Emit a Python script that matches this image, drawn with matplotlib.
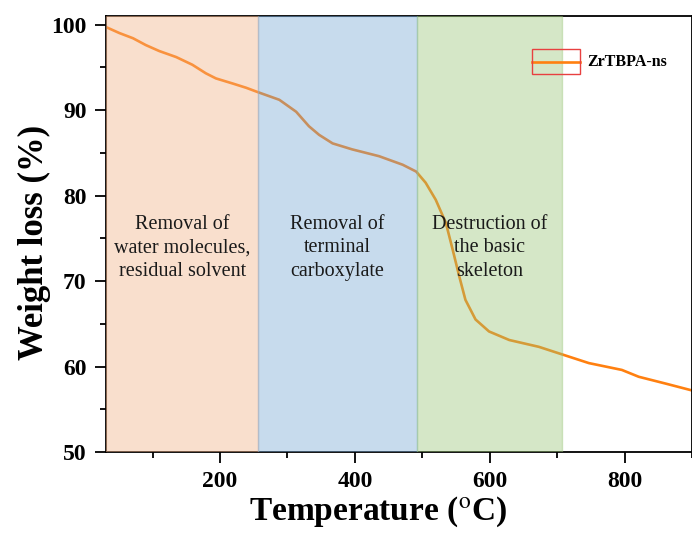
import matplotlib
matplotlib.use("Agg")
import matplotlib.pyplot as plt
from matplotlib.patches import Rectangle
from matplotlib.lines import Line2D
from matplotlib.ticker import MultipleLocator

plt.rcParams['font.family'] = ['Liberation Serif', 'DejaVu Serif']
plt.rcParams['mathtext.fontset'] = 'stix'

temperature = [31, 34, 51, 71, 90, 110, 135, 159, 179, 194, 219, 239, 256, 288, 313, 332,
               347, 367, 396, 436, 471, 491, 505, 520, 535, 545, 555, 564, 579, 599, 629,
               673, 708, 747, 796, 821, 861, 900]
weight = [99.7, 99.6, 99.0, 98.4, 97.6, 96.9, 96.2, 95.3, 94.3, 93.7, 93.1, 92.6, 92.1, 91.2, 89.8, 88.1,
          87.1, 86.1, 85.4, 84.6, 83.6, 82.8, 81.5, 79.5, 76.8, 73.7, 70.5, 67.8, 65.5, 64.1, 63.1,
          62.3, 61.4, 60.4, 59.6, 58.8, 58.0, 57.2]

region_edges = [31, 257, 492, 707]
region_colors = ['#F0AF84', '#75A7D4', '#98C575']
region_labels = ['Removal of\nwater molecules,\nresidual solvent',
                 'Removal of\nterminal\ncarboxylate',
                 'Destruction of\nthe basic\nskeleton']
series_name = 'ZrTBPA-ns'

fig = plt.figure(figsize=(6.92, 5.33), dpi=100)
ax = fig.add_axes([106/692, 1-452/533, 1-106/692, (452-16)/533])

ax.plot(temperature, weight, color='#FF8010', lw=1.9, zorder=2)

for i in range(3):
    ax.axvspan(region_edges[i], region_edges[i+1], facecolor=region_colors[i],
               edgecolor=region_colors[i], alpha=0.4, lw=1.0, zorder=5)
    xc = (region_edges[i] + region_edges[i+1]) / 2
    ax.text(xc, 73.9, region_labels[i], ha='center', va='center', fontsize=14.5,
            color='#1a1a1a', linespacing=1.32, zorder=6)

# legend (Origin-style)
rect = Rectangle((532/692, 1-74/533), (580-532)/692, (74-49)/533, transform=fig.transFigure,
                 fill=False, edgecolor='#E84040', lw=1.0, zorder=3)
fig.add_artist(rect)
fig.add_artist(Line2D([532/692, 580/692], [1-61.5/533, 1-61.5/533], transform=fig.transFigure,
                      color='#FF8010', lw=1.9))
fig.text(587/692, 1-62/533, series_name, fontsize=11.5, fontweight='bold', va='center', ha='left')

ax.set_xlim(31, 900)
ax.set_ylim(50, 101)

ax.xaxis.set_major_locator(MultipleLocator(200))
ax.xaxis.set_minor_locator(MultipleLocator(100))
ax.yaxis.set_major_locator(MultipleLocator(10))
ax.yaxis.set_minor_locator(MultipleLocator(5))
ax.tick_params(which='major', direction='out', length=8, width=1.3, labelsize=17, pad=6)
ax.tick_params(which='minor', direction='out', length=4.5, width=1.3)
ax.tick_params(top=False, right=False)
for lab in ax.get_xticklabels() + ax.get_yticklabels():
    lab.set_fontweight('bold')
for s in ax.spines.values():
    s.set_linewidth(1.3)

ax.set_ylabel('Weight loss (%)', fontsize=25, fontweight='bold')
ax.set_xlabel('Temperature ($^{\\rm o}$C)', fontsize=24, fontweight='bold')
ax.yaxis.set_label_coords(-0.094, 0.48)
ax.xaxis.set_label_coords(0.465, -0.098)

fig.savefig('out.png', dpi=100)
